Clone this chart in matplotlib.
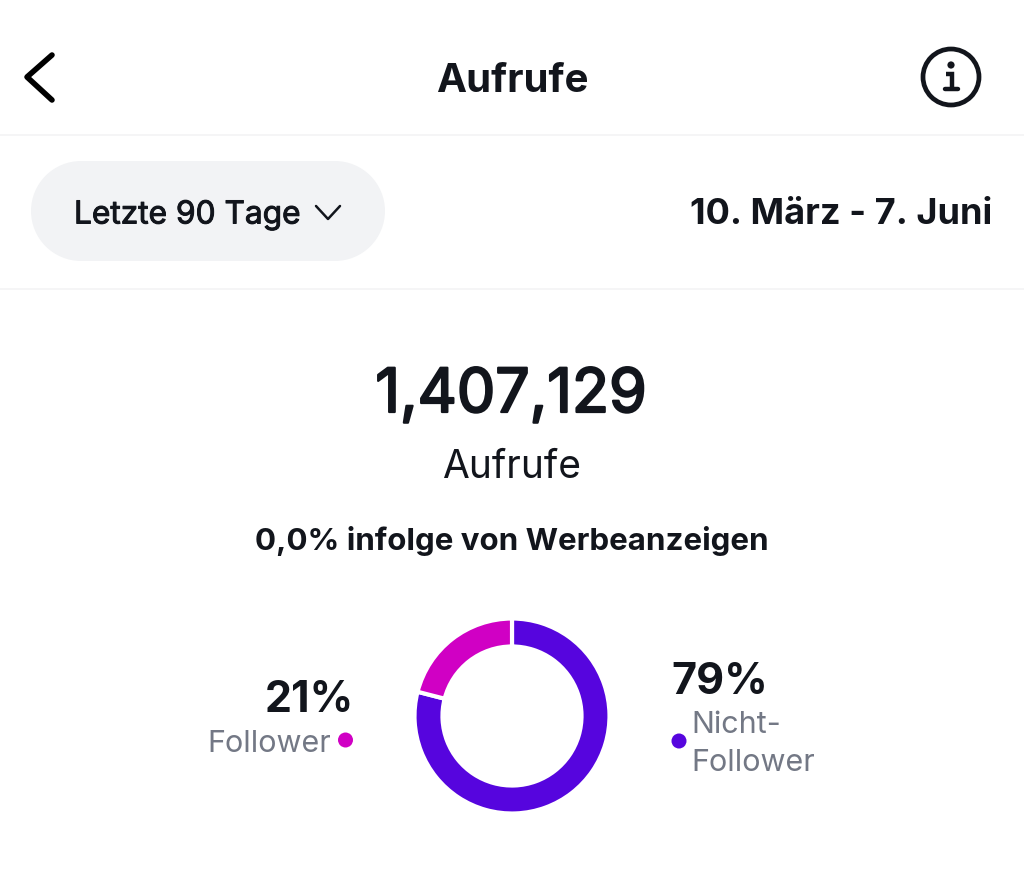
import matplotlib
matplotlib.use("Agg")
import matplotlib.pyplot as plt
import matplotlib.patheffects as pe
from matplotlib.patches import Rectangle, Circle

plt.rcParams['font.family'] = ['Inter', 'DejaVu Sans']

title = "Aufrufe"
range_label = "Letzte 90 Tage"
date_label = "10. März - 7. Juni"
total_label = "1,407,129"
metric_label = "Aufrufe"
ads_label = "0,0% infolge von Werbeanzeigen"
segments = ["Nicht-\nFollower", "Follower"]
shares = [79, 21]
share_labels = ["79%", "21%"]
colors = ["#5605DE", "#D000C4"]
DARK = "#12151C"
GREY = "#737885"
PILL = "#F2F3F5"

def heavier(width):
    return [pe.withStroke(linewidth=width, foreground=DARK)]

fig = plt.figure(figsize=(10.24, 8.73), dpi=100, facecolor="white")
bg = fig.add_axes([0, 0, 1, 1])
bg.set_xlim(0, 1024)
bg.set_ylim(873, 0)
bg.axis("off")

# header
bg.plot([52, 27, 52], [55, 77, 100], color="#000000", lw=4, solid_capstyle="round", solid_joinstyle="round")
bg.text(512, 82, title, ha="center", va="center", fontsize=29, fontweight="bold", color=DARK)
bg.add_patch(Circle((951, 77), 28, fill=False, ec=DARK, lw=3.4))
bg.add_patch(Circle((951, 65), 3.6, fc=DARK, ec="none"))
bg.plot([946, 951.5, 951.5], [74, 74, 89], color=DARK, lw=3.2, solid_capstyle="butt", solid_joinstyle="miter")
bg.plot([945, 958], [89, 89], color=DARK, lw=3.2, solid_capstyle="round")
bg.plot([0, 1024], [135, 135], color="#F3F4F5", lw=1.2)
bg.plot([0, 1024], [289, 289], color="#F3F4F5", lw=1.2)

# filter pill
bg.add_patch(Rectangle((81, 161), 254, 100, fc=PILL, ec="none"))
bg.add_patch(Circle((81, 211), 50, fc=PILL, ec="none"))
bg.add_patch(Circle((335, 211), 50, fc=PILL, ec="none"))
bg.text(74, 215, range_label, ha="left", va="center", fontsize=22.8, color=DARK, path_effects=heavier(0.7))
bg.plot([316, 328, 340], [206, 219, 206], color=DARK, lw=1.8, solid_capstyle="round", solid_joinstyle="round")
bg.text(992, 214, date_label, ha="right", va="center", fontsize=26, fontweight="bold", color=DARK)

# totals
bg.text(511, 396, total_label, ha="center", va="center", fontsize=43.8, color=DARK, path_effects=heavier(1.6))
bg.text(512, 468, metric_label, ha="center", va="center", fontsize=28, color=DARK)
bg.text(512, 541, ads_label, ha="center", va="center", fontsize=22.5, fontweight="bold", color=DARK)

# legend
bg.text(354, 700, share_labels[1], ha="right", va="center", fontsize=31, fontweight="bold", color=DARK)
bg.text(331, 744, segments[1], ha="right", va="center", fontsize=22, color=GREY)
bg.add_patch(Circle((345.5, 740), 7.5, fc=colors[1], ec="none"))
bg.text(671, 683, share_labels[0], ha="left", va="center", fontsize=31, fontweight="bold", color=DARK)
bg.text(691, 744, segments[0], ha="left", va="center", fontsize=22, color=GREY, linespacing=1.42)
bg.add_patch(Circle((679, 741), 7.5, fc=colors[0], ec="none"))

# donut
ax = fig.add_axes([414.5/1024, 1-813.5/873, 195/1024, 195/873])
ax.pie(shares, colors=colors, startangle=90, counterclock=False, radius=1,
       wedgeprops=dict(width=0.287, edgecolor="white", linewidth=3))
ax.set_xlim(-1, 1)
ax.set_ylim(-1, 1)
ax.set_aspect("equal")

fig.savefig("out.png", dpi=100, facecolor="white")
